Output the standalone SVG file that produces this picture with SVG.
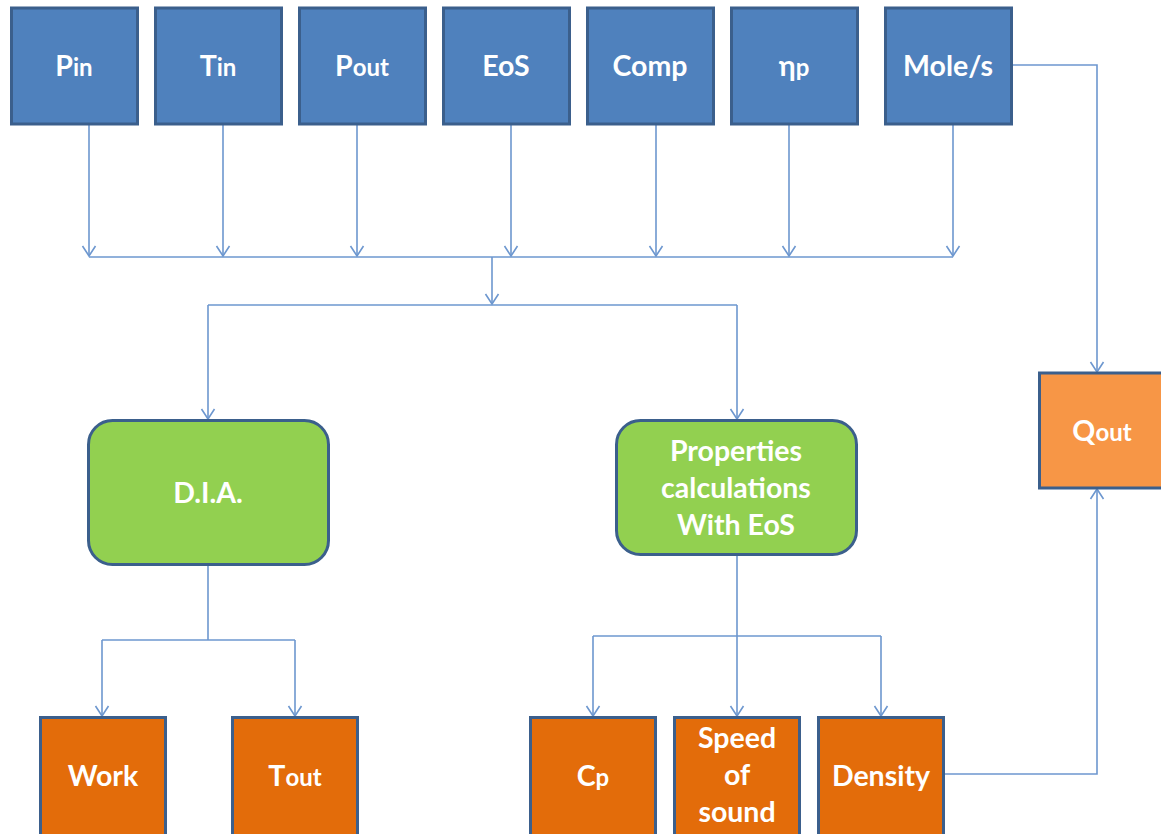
<svg xmlns="http://www.w3.org/2000/svg" width="1161" height="834" viewBox="0 0 1161 834">
  <style>
    .box { stroke: #3B5F8C; stroke-width: 3; }
    .in { fill: #4F81BD; }
    .calc { fill: #92D050; }
    .out { fill: #E36C0A; }
    .q { fill: #F79646; }
    .lbl { font-family: Lato, "Open Sans", "Liberation Sans", sans-serif; font-weight: bold; font-size: 28.5px; fill: #FFFFFF; text-anchor: middle; }
    .sub { font-size: 24px; }
    .wire { fill: none; stroke: #6D97CF; stroke-width: 1.6; }
  </style>
  <defs>
    <marker id="arrow" markerUnits="userSpaceOnUse" viewBox="-12 -8 14 16" refX="0" refY="0" markerWidth="14" markerHeight="16" orient="auto">
      <path d="M-10,-6.5 L0,0 L-10,6.5" fill="none" stroke="#6D97CF" stroke-width="1.6"/>
    </marker>
  </defs>
  <rect width="1161" height="834" fill="#FFFFFF"/>

  <!-- connectors -->
  <g id="connectors" class="wire">
    <path d="M89,124 V256" marker-end="url(#arrow)"/>
    <path d="M223,124 V256" marker-end="url(#arrow)"/>
    <path d="M357,124 V256" marker-end="url(#arrow)"/>
    <path d="M511,124 V256" marker-end="url(#arrow)"/>
    <path d="M656,124 V256" marker-end="url(#arrow)"/>
    <path d="M789,124 V256" marker-end="url(#arrow)"/>
    <path d="M953,124 V256" marker-end="url(#arrow)"/>
    <path d="M89,257 H953"/>
    <path d="M492,257 V304" marker-end="url(#arrow)"/>
    <path d="M208,305 H737"/>
    <path d="M208,305 V419" marker-end="url(#arrow)"/>
    <path d="M737,305 V419" marker-end="url(#arrow)"/>
    <path d="M208,565 V640"/>
    <path d="M102,640 H295"/>
    <path d="M102,640 V716" marker-end="url(#arrow)"/>
    <path d="M295,640 V716" marker-end="url(#arrow)"/>
    <path d="M737,555 V716" marker-end="url(#arrow)"/>
    <path d="M593,636 H881"/>
    <path d="M593,636 V716" marker-end="url(#arrow)"/>
    <path d="M881,636 V716" marker-end="url(#arrow)"/>
    <path d="M944,774 H1097 V489" marker-end="url(#arrow)"/>
    <path d="M1012,65 H1097 V372" marker-end="url(#arrow)"/>
  </g>

  <!-- input nodes -->
  <g id="pin"><rect class="box in" x="11.5" y="8" width="126" height="116"/><text class="lbl" x="74" y="76">P<tspan class="sub">in</tspan></text></g>
  <g id="tin"><rect class="box in" x="155.5" y="8" width="126" height="116"/><text class="lbl" x="218" y="76">T<tspan class="sub">in</tspan></text></g>
  <g id="pout"><rect class="box in" x="299.5" y="8" width="126" height="116"/><text class="lbl" x="362" y="76">P<tspan class="sub">out</tspan></text></g>
  <g id="eos"><rect class="box in" x="443.5" y="8" width="126" height="116"/><text class="lbl" x="506" y="76">EoS</text></g>
  <g id="comp"><rect class="box in" x="587.5" y="8" width="126" height="116"/><text class="lbl" x="650" y="76">Comp</text></g>
  <g id="etap"><rect class="box in" x="731.5" y="8" width="126" height="116"/><text class="lbl" x="794" y="76">η<tspan class="sub">p</tspan></text></g>
  <g id="moles"><rect class="box in" x="885.5" y="8" width="126" height="116"/><text class="lbl" x="948" y="76">Mole/s</text></g>

  <!-- calculation nodes -->
  <g id="dia"><rect class="box calc" x="88.5" y="420.5" width="240" height="144" rx="24"/><text class="lbl" x="208" y="503">D.I.A.</text></g>
  <g id="props"><rect class="box calc" x="616.5" y="420.5" width="240" height="134" rx="24"/>
    <text class="lbl" x="736" y="461">Properties</text>
    <text class="lbl" x="736" y="498">calculations</text>
    <text class="lbl" x="736" y="535">With EoS</text>
  </g>

  <!-- result nodes -->
  <g id="qout"><rect class="box q" x="1039.5" y="373" width="126" height="115"/><text class="lbl" x="1102" y="441">Q<tspan class="sub">out</tspan></text></g>
  <g id="work"><rect class="box out" x="40.5" y="717.5" width="125" height="128"/><text class="lbl" x="103" y="786">Work</text></g>
  <g id="tout"><rect class="box out" x="232.5" y="717.5" width="125" height="128"/><text class="lbl" x="295" y="786">T<tspan class="sub">out</tspan></text></g>
  <g id="cp"><rect class="box out" x="530.5" y="717.5" width="125" height="128"/><text class="lbl" x="593" y="786">C<tspan class="sub">p</tspan></text></g>
  <g id="sos"><rect class="box out" x="674.5" y="717.5" width="125" height="128"/>
    <text class="lbl" x="737" y="748">Speed</text>
    <text class="lbl" x="737" y="785">of</text>
    <text class="lbl" x="737" y="822">sound</text>
  </g>
  <g id="density"><rect class="box out" x="818.5" y="717.5" width="125" height="128"/><text class="lbl" x="881" y="786">Density</text></g>
</svg>
